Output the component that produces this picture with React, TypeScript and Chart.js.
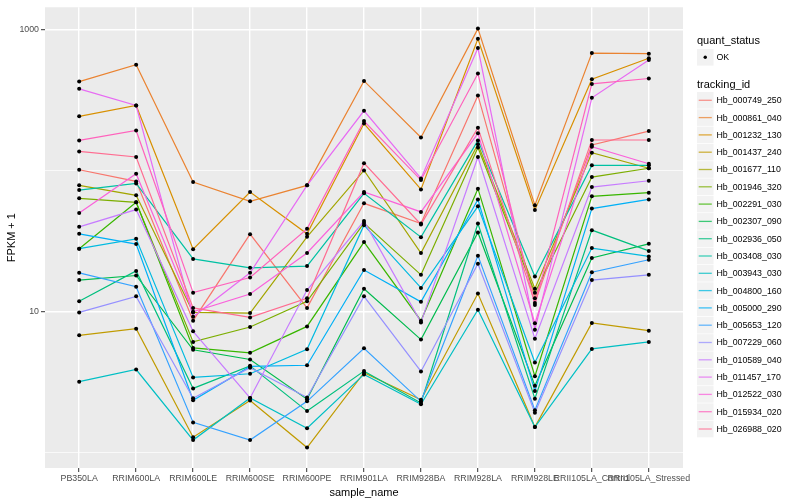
import React, { useEffect, useRef } from "react";
import { Chart, registerables } from "chart.js";

Chart.register(...registerables);

const sampleNames = [
  "PB350LA", "RRIM600LA", "RRIM600LE", "RRIM600SE", "RRIM600PE", "RRIM901LA",
  "RRIM928BA", "RRIM928LA", "RRIM928LE", "RRII105LA_Control", "RRII105LA_Stressed",
];

const trackingIds = [
  "Hb_000749_250", "Hb_000861_040", "Hb_001232_130", "Hb_001437_240", "Hb_001677_110",
  "Hb_001946_320", "Hb_002291_030", "Hb_002307_090", "Hb_002936_050", "Hb_003408_030",
  "Hb_003943_030", "Hb_004800_160", "Hb_005000_290", "Hb_005653_120", "Hb_007229_060",
  "Hb_010589_040", "Hb_011457_170", "Hb_012522_030", "Hb_015934_020", "Hb_026988_020",
];

const seriesColors = [
  "#F8766D", "#EA8331", "#D89000", "#C09B00", "#A3A500", "#7CAE00", "#39B600", "#00BB4E",
  "#00BF7D", "#00C1A3", "#00BFC4", "#00BAE0", "#00B0F6", "#35A2FF", "#9590FF", "#C77CFF",
  "#E76BF3", "#FA62DB", "#FF62BC", "#FF6C91",
];

// FPKM + 1 per sample (order of sampleNames)
const Hb_000749_250 = [101.5, 83.9, 8.6, 35.4, 10.6, 58.6, 42.1, 342, 12.4, 152, 191];
const Hb_000861_040 = [429, 566, 82.9, 60.6, 78.6, 434, 172, 1020, 56.8, 684, 677];
const Hb_001232_130 = [243, 290, 27.7, 70.5, 35.6, 216, 73.6, 864, 52.6, 446, 628];
const Hb_001437_240 = [6.77, 7.55, 1.28, 2.33, 1.08, 3.67, 2.36, 13.4, 1.51, 8.28, 7.3];
const Hb_001677_110 = [78.6, 66.8, 9.84, 9.74, 33.9, 100.3, 26.0, 154, 14.5, 134, 104];
const Hb_001946_320 = [63.6, 59.6, 6.08, 7.76, 11.8, 42.4, 18.2, 146, 13.6, 90, 104];
const Hb_002291_030 = [27.9, 59.6, 5.51, 5.08, 7.83, 31.1, 8.6, 74.5, 3.47, 65.7, 69.8];
const Hb_002307_090 = [16.7, 18.0, 5.34, 4.56, 2.38, 14.5, 6.31, 36.4, 2.97, 24.0, 30.2];
const Hb_002936_050 = [11.8, 19.4, 2.84, 4.11, 1.96, 3.77, 2.24, 42.1, 2.4, 37.8, 26.9];
const Hb_003408_030 = [72.8, 81.2, 23.6, 20.4, 21.0, 69.0, 33.7, 164, 17.7, 109, 109];
const Hb_003943_030 = [3.17, 3.87, 1.22, 2.43, 1.48, 3.57, 2.19, 10.3, 1.51, 5.42, 6.08];
const Hb_004800_160 = [27.9, 32.8, 3.4, 3.61, 5.39, 41.0, 14.7, 55.8, 4.34, 28.2, 24.6];
const Hb_005000_290 = [35.6, 30.1, 2.34, 4.07, 4.15, 19.7, 11.7, 62.3, 2.72, 53.8, 62.5];
const Hb_005653_120 = [18.8, 15.0, 1.63, 1.22, 2.3, 5.47, 2.3, 24.9, 1.99, 19.0, 23.3];
const Hb_007229_060 = [9.84, 12.8, 2.42, 3.98, 2.45, 12.8, 3.75, 21.8, 1.91, 16.7, 18.2];
const Hb_010589_040 = [39.9, 52.9, 7.22, 2.43, 14.2, 43.8, 8.36, 125, 6.41, 76.4, 84.8];
const Hb_011457_170 = [381, 290, 9.17, 18.8, 78.6, 266, 88.1, 742, 7.42, 329, 611];
const Hb_012522_030 = [50.1, 95.1, 9.95, 13.3, 26.0, 70.5, 50.9, 184, 8.23, 148, 112];
const Hb_015934_020 = [164, 193, 13.6, 17.4, 38.6, 225, 85.7, 489, 11.1, 413, 451];
const Hb_026988_020 = [137, 125, 10.6, 9.07, 12.4, 113, 41.5, 202, 11.5, 165, 165];

const seriesValues = [
  Hb_000749_250, Hb_000861_040, Hb_001232_130, Hb_001437_240, Hb_001677_110,
  Hb_001946_320, Hb_002291_030, Hb_002307_090, Hb_002936_050, Hb_003408_030,
  Hb_003943_030, Hb_004800_160, Hb_005000_290, Hb_005653_120, Hb_007229_060,
  Hb_010589_040, Hb_011457_170, Hb_012522_030, Hb_015934_020, Hb_026988_020,
];

const yTicks = [1, 10, 100, 1000];
const yLabeled = [10, 1000];

const FONT = '"Liberation Sans", Arial, Helvetica, sans-serif';

const panelPlugin = {
  id: "ggPanel",
  beforeDraw(chart: any) {
    const { ctx, chartArea } = chart;
    ctx.save();
    ctx.fillStyle = "#FFFFFF";
    ctx.fillRect(0, 0, chart.width, chart.height);
    ctx.fillStyle = "#EBEBEB";
    ctx.fillRect(chartArea.left, chartArea.top, chartArea.right - chartArea.left, chartArea.bottom - chartArea.top);
    ctx.restore();
  },
};

const legendPlugin = {
  id: "ggLegend",
  afterDraw(chart: any) {
    const ctx = chart.ctx;
    const x0 = 697;
    const keyW = 16.5;
    ctx.save();
    ctx.textAlign = "left";
    ctx.textBaseline = "middle";
    ctx.fillStyle = "#000";
    ctx.font = `11px ${FONT}`;
    ctx.fillText("quant_status", x0, 41);
    ctx.fillStyle = "#F2F2F2";
    ctx.fillRect(x0, 49, keyW, 16.6);
    ctx.fillStyle = "#000";
    ctx.beginPath();
    ctx.arc(x0 + keyW / 2, 57.3, 1.7, 0, Math.PI * 2);
    ctx.fill();
    ctx.font = `8.8px ${FONT}`;
    ctx.fillText("OK", 716.5, 57.5);
    ctx.font = `11px ${FONT}`;
    ctx.fillText("tracking_id", x0, 84.5);
    trackingIds.forEach((id, i) => {
      const cy = 100.3 + 17.3 * i;
      ctx.fillStyle = "#F2F2F2";
      ctx.fillRect(x0, cy - 8.3, keyW, 16.6);
      ctx.strokeStyle = seriesColors[i];
      ctx.globalAlpha = 0.75;
      ctx.lineWidth = 1.3;
      ctx.beginPath();
      ctx.moveTo(x0 + 1.7, cy);
      ctx.lineTo(x0 + keyW - 1.7, cy);
      ctx.stroke();
      ctx.globalAlpha = 1;
      ctx.fillStyle = "#000";
      ctx.font = `8.8px ${FONT}`;
      ctx.fillText(id, 716.5, cy + 0.5);
    });
    ctx.restore();
  },
};

export default function App() {
  const canvasRef = useRef<HTMLCanvasElement | null>(null);

  useEffect(() => {
    if (!canvasRef.current) return;
    const lineSets = seriesValues.map((vals, i) => ({
      label: trackingIds[i],
      data: vals.map((v, j) => ({ x: j, y: v })),
      borderColor: seriesColors[i],
      backgroundColor: seriesColors[i],
      borderWidth: 1.2,
      pointRadius: 0,
      tension: 0,
      fill: false,
      order: -i,
    }));
    const pointSets = seriesValues.map((vals, i) => ({
      label: trackingIds[i] + " OK",
      data: vals.map((v, j) => ({ x: j, y: v })),
      showLine: false,
      pointRadius: 2,
      pointBorderWidth: 0,
      pointBackgroundColor: "#000",
      pointBorderColor: "#000",
      order: -100,
    }));

    const chart = new Chart(canvasRef.current, {
      type: "line",
      data: { datasets: [...lineSets, ...pointSets] as any },
      plugins: [panelPlugin, legendPlugin],
      options: {
        animation: false,
        responsive: false,
        events: [],
        layout: { padding: { left: 0, right: 117, top: 5, bottom: 0 } },
        plugins: { legend: { display: false }, tooltip: { enabled: false } },
        scales: {
          x: {
            type: "linear",
            min: -0.6,
            max: 10.6,
            afterBuildTicks: (scale: any) => {
              scale.ticks = sampleNames.map((_, i) => ({ value: i }));
            },
            afterFit: (scale: any) => {
              scale.height = 32;
            },
            ticks: {
              autoSkip: false,
              maxRotation: 0,
              minRotation: 0,
              padding: 1,
              color: "#4D4D4D",
              font: { family: FONT, size: 8.8 },
              callback: (v: any) => sampleNames[Math.round(Number(v))] ?? "",
            },
            grid: {
              color: "#FFFFFF",
              lineWidth: 1.4,
              drawTicks: true,
              tickLength: 4,
              tickColor: "#333333",
              tickWidth: 1,
            },
            border: { display: false },
            title: {
              display: true,
              text: "sample_name",
              color: "#000",
              font: { family: FONT, size: 11 },
              padding: { top: 5, bottom: 0 },
            },
          },
          y: {
            type: "logarithmic",
            min: 0.773,
            max: 1446,
            afterBuildTicks: (scale: any) => {
              scale.ticks = yTicks.map((v) => ({ value: v }));
            },
            afterFit: (scale: any) => {
              scale.width = 45;
            },
            ticks: {
              autoSkip: false,
              padding: 2,
              color: "#4D4D4D",
              font: { family: FONT, size: 8.8 },
              callback: (v: any) => (yLabeled.includes(Number(v)) ? String(v) : ""),
            },
            grid: {
              color: "#FFFFFF",
              lineWidth: (c: any) => (yLabeled.includes(c.tick?.value) ? 1.4 : 0.7),
              drawTicks: true,
              tickLength: 4,
              tickWidth: 1,
              tickColor: (c: any) => (yLabeled.includes(c.tick?.value) ? "#333333" : "rgba(0,0,0,0)"),
            },
            border: { display: false },
            title: {
              display: true,
              text: "FPKM + 1",
              color: "#000",
              font: { family: FONT, size: 11 },
              padding: { top: 5, bottom: 0 },
            },
          },
        },
      },
    });
    return () => chart.destroy();
  }, []);

  return (
    <div style={{ position: "absolute", left: 0, top: 0, width: 800, height: 500, background: "#fff" }}>
      <canvas ref={canvasRef} width={800} height={500} style={{ width: 800, height: 500, display: "block" }} />
    </div>
  );
}
